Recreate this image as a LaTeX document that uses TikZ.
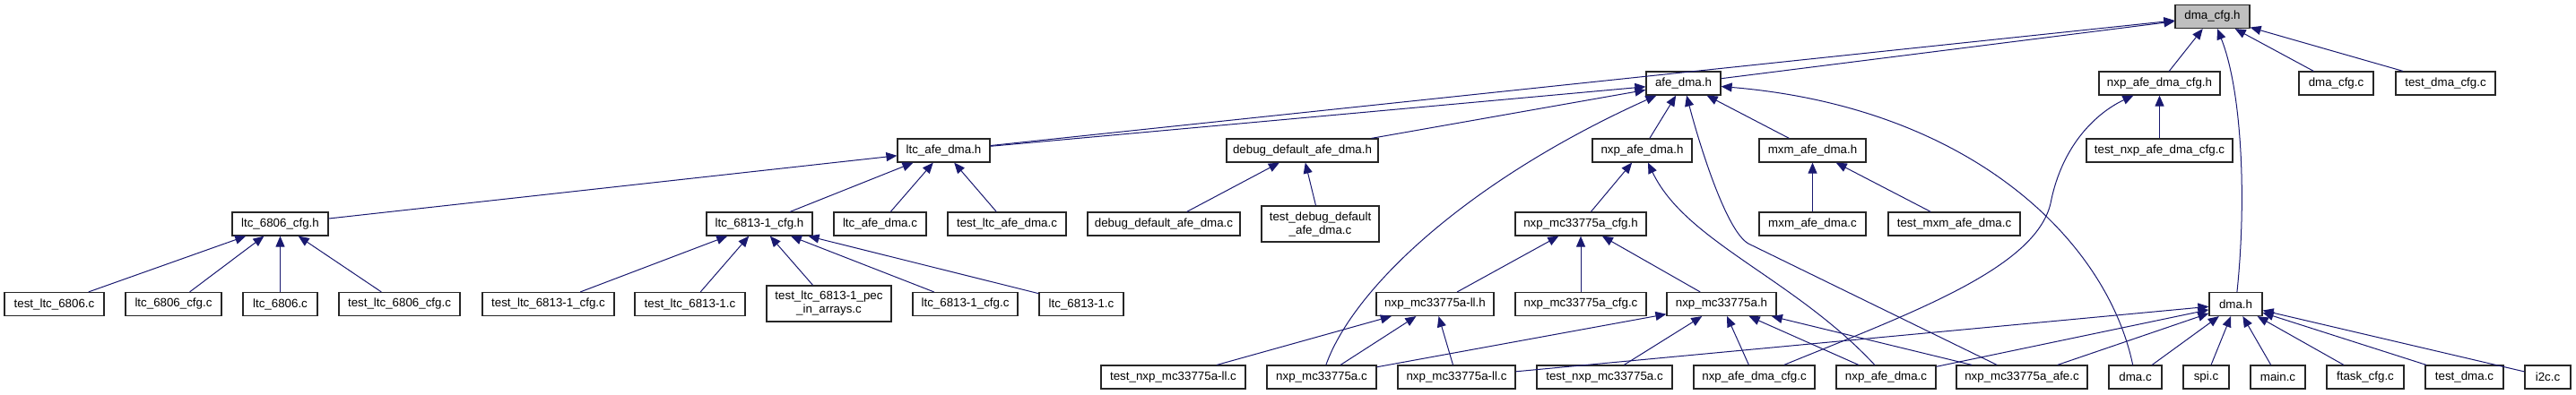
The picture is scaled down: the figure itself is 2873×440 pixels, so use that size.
\documentclass[tikz,border=0pt]{standalone}
\usepackage{fontspec}
\setmainfont{Liberation Sans}
\usetikzlibrary{arrows.meta}
\definecolor{edgeblue}{HTML}{191970}
\definecolor{rootgray}{HTML}{BFBFBF}
\begin{document}
\begin{tikzpicture}[x=0.75pt,y=-0.75pt,
  box/.style={draw=black!85, line width=0.9pt, fill=white, inner sep=0pt, minimum height=19.5pt, font=\fontsize{10}{11.25}\selectfont, align=center},
  bw/.style={minimum width=#1*0.75pt},
  tall/.style={minimum height=30pt},
  root/.style={fill=rootgray},
  edge/.style={draw=edgeblue, line width=0.75pt, -{Triangle[length=9pt,width=7.5pt]}}]
\useasboundingbox (0,0) rectangle (2873,440);

% row 0
\node[box,root,bw=83] (dmacfgh) at (2467.5,18.5) {dma\_cfg.h};
% row 1
\node[box,bw=83]  (afedmah)       at (1877.5,93) {afe\_dma.h};
\node[box,bw=135] (nxpafedmacfgh) at (2408.5,93) {nxp\_afe\_dma\_cfg.h};
\node[box,bw=83]  (dmacfgc)       at (2605.5,93) {dma\_cfg.c};
\node[box,bw=111] (testdmacfgc)   at (2727.5,93) {test\_dma\_cfg.c};
% row 2
\node[box,bw=103] (ltcafedmah)    at (1052.5,168) {ltc\_afe\_dma.h};
\node[box,bw=169] (debugh)        at (1452.5,168) {debug\_default\_afe\_dma.h};
\node[box,bw=111] (nxpafedmah)    at (1831.5,168) {nxp\_afe\_dma.h};
\node[box,bw=119] (mxmh)          at (2021.5,168) {mxm\_afe\_dma.h};
\node[box,bw=163] (testnxpafedmacfgc) at (2408.5,168) {test\_nxp\_afe\_dma\_cfg.c};
% row 3
\node[box,bw=107] (ltc6806cfgh)   at (312.5,250) {ltc\_6806\_cfg.h};
\node[box,bw=118] (ltc68131cfgh)  at (847,250) {ltc\_6813-1\_cfg.h};
\node[box,bw=103] (ltcafedmac)    at (981.5,250) {ltc\_afe\_dma.c};
\node[box,bw=132] (testltcafedmac) at (1123,250) {test\_ltc\_afe\_dma.c};
\node[box,bw=170] (debugc)        at (1298,250) {debug\_default\_afe\_dma.c};
\node[box,bw=131,tall] (testdebugc) at (1472.5,250) {test\_debug\_default\\\_afe\_dma.c};
\node[box,bw=146] (nxpcfgh)       at (1763,250) {nxp\_mc33775a\_cfg.h};
\node[box,bw=119] (mxmc)          at (2021.5,250) {mxm\_afe\_dma.c};
\node[box,bw=147] (testmxmc)      at (2179.5,250) {test\_mxm\_afe\_dma.c};
% row 4
\node[box,bw=111] (testltc6806c)    at (60.5,339.5) {test\_ltc\_6806.c};
\node[box,bw=107] (ltc6806cfgc)     at (193.5,339.5) {ltc\_6806\_cfg.c};
\node[box,bw=83]  (ltc6806c)        at (312.5,339.5) {ltc\_6806.c};
\node[box,bw=135] (testltc6806cfgc) at (445.5,339.5) {test\_ltc\_6806\_cfg.c};
\node[box,bw=147] (testltc68131cfgc) at (611.5,339.5) {test\_ltc\_6813-1\_cfg.c};
\node[box,bw=123] (testltc68131c)   at (769.5,339.5) {test\_ltc\_6813-1.c};
\node[box,bw=139,tall] (testpec)    at (924.5,339) {test\_ltc\_6813-1\_pec\\\_in\_arrays.c};
\node[box,bw=117] (ltc68131cfgc)    at (1076.5,339.5) {ltc\_6813-1\_cfg.c};
\node[box,bw=94]  (ltc68131c)       at (1206,339.5) {ltc\_6813-1.c};
\node[box,bw=131] (nxpllh)          at (1600.5,339.5) {nxp\_mc33775a-ll.h};
\node[box,bw=146] (nxpcfgc)         at (1763,339.5) {nxp\_mc33775a\_cfg.c};
\node[box,bw=122] (nxph)            at (1920,339.5) {nxp\_mc33775a.h};
\node[box,bw=59]  (dmah)            at (2493.5,339.5) {dma.h};
% row 5
\node[box,bw=161] (testnxpllc)    at (1308.5,421) {test\_nxp\_mc33775a-ll.c};
\node[box,bw=122] (nxpc)          at (1474,421) {nxp\_mc33775a.c};
\node[box,bw=131] (nxpllc)        at (1624.5,421) {nxp\_mc33775a-ll.c};
\node[box,bw=151] (testnxpc)      at (1789.5,421) {test\_nxp\_mc33775a.c};
\node[box,bw=135] (nxpafedmacfgc) at (1956.5,421) {nxp\_afe\_dma\_cfg.c};
\node[box,bw=111] (nxpafedmac)    at (2103.5,421) {nxp\_afe\_dma.c};
\node[box,bw=146] (nxpafec)       at (2255,421) {nxp\_mc33775a\_afe.c};
\node[box,bw=59]  (dmac)          at (2381.5,421) {dma.c};
\node[box,bw=51]  (spic)          at (2460.5,421) {spi.c};
\node[box,bw=61]  (mainc)         at (2540.5,421) {main.c};
\node[box,bw=86]  (ftaskc)        at (2638,421) {ftask\_cfg.c};
\node[box,bw=87]  (testdmac)      at (2748.5,421) {test\_dma.c};
\node[box,bw=51]  (i2cc)          at (2841.5,421) {i2c.c};

% edges into dma_cfg.h
\draw[edge] (afedmah) -- (dmacfgh);
\draw[edge] (ltcafedmah) -- (dmacfgh);
\draw[edge] (nxpafedmacfgh) -- (dmacfgh);
\draw[edge] (dmacfgc) -- (dmacfgh);
\draw[edge] (testdmacfgc) -- (dmacfgh);
\draw[edge] (dmah) .. controls (2506,220) and (2500,100) .. (dmacfgh);
% edges into afe_dma.h
\draw[edge] (ltcafedmah) -- (afedmah);
\draw[edge] (debugh) -- (afedmah);
\draw[edge] (nxpafedmah) -- (afedmah);
\draw[edge] (mxmh) -- (afedmah);
\draw[edge] (nxpc) .. controls (1510,320) and (1640,200) .. (afedmah);
\draw[edge] (nxpafec) -- (1950,272) .. controls (1925,258) and (1895,160) .. (afedmah);
\draw[edge] (dmac) .. controls (2350,270) and (2200,120) .. (afedmah);
% nxp_afe_dma_cfg.h
\draw[edge] (testnxpafedmacfgc) -- (nxpafedmacfgh);
\draw[edge] (nxpafedmacfgc) .. controls (2130,350) and (2270,300) .. (2287,227) .. controls (2300,160) and (2340,125) .. (nxpafedmacfgh);
% ltc_afe_dma.h
\draw[edge] (ltc6806cfgh) -- (ltcafedmah);
\draw[edge] (ltc68131cfgh) -- (ltcafedmah);
\draw[edge] (ltcafedmac) -- (ltcafedmah);
\draw[edge] (testltcafedmac) -- (ltcafedmah);
% debug_default_afe_dma.h
\draw[edge] (debugc) -- (debugh);
\draw[edge] (testdebugc) -- (debugh);
% nxp_afe_dma.h
\draw[edge] (nxpcfgh) -- (nxpafedmah);
\draw[edge] (nxpafedmac) .. controls (2000,310) and (1880,270) .. (nxpafedmah);
% mxm_afe_dma.h
\draw[edge] (mxmc) -- (mxmh);
\draw[edge] (testmxmc) -- (mxmh);
% ltc_6806_cfg.h
\draw[edge] (testltc6806c) -- (ltc6806cfgh);
\draw[edge] (ltc6806cfgc) -- (ltc6806cfgh);
\draw[edge] (ltc6806c) -- (ltc6806cfgh);
\draw[edge] (testltc6806cfgc) -- (ltc6806cfgh);
% ltc_6813-1_cfg.h
\draw[edge] (testltc68131cfgc) -- (ltc68131cfgh);
\draw[edge] (testltc68131c) -- (ltc68131cfgh);
\draw[edge] (testpec) -- (ltc68131cfgh);
\draw[edge] (ltc68131cfgc) -- (ltc68131cfgh);
\draw[edge] (ltc68131c) -- (ltc68131cfgh);
% nxp_mc33775a_cfg.h
\draw[edge] (nxpllh) -- (nxpcfgh);
\draw[edge] (nxpcfgc) -- (nxpcfgh);
\draw[edge] (nxph) -- (nxpcfgh);
% nxp_mc33775a-ll.h
\draw[edge] (testnxpllc) -- (nxpllh);
\draw[edge] (nxpc) -- (nxpllh);
\draw[edge] (nxpllc) -- (nxpllh);
% nxp_mc33775a.h
\draw[edge] (nxpc) -- (nxph);
\draw[edge] (testnxpc) -- (nxph);
\draw[edge] (nxpafedmacfgc) -- (nxph);
\draw[edge] (nxpafedmac) -- (nxph);
\draw[edge] (nxpafec) -- (nxph);
% dma.h
\draw[edge] (nxpllc) -- (dmah);
\draw[edge] (nxpafedmac) -- (dmah);
\draw[edge] (nxpafec) -- (dmah);
\draw[edge] (dmac) -- (dmah);
\draw[edge] (spic) -- (dmah);
\draw[edge] (mainc) -- (dmah);
\draw[edge] (ftaskc) -- (dmah);
\draw[edge] (testdmac) -- (dmah);
\draw[edge] (i2cc) -- (dmah);
\end{tikzpicture}
\end{document}
